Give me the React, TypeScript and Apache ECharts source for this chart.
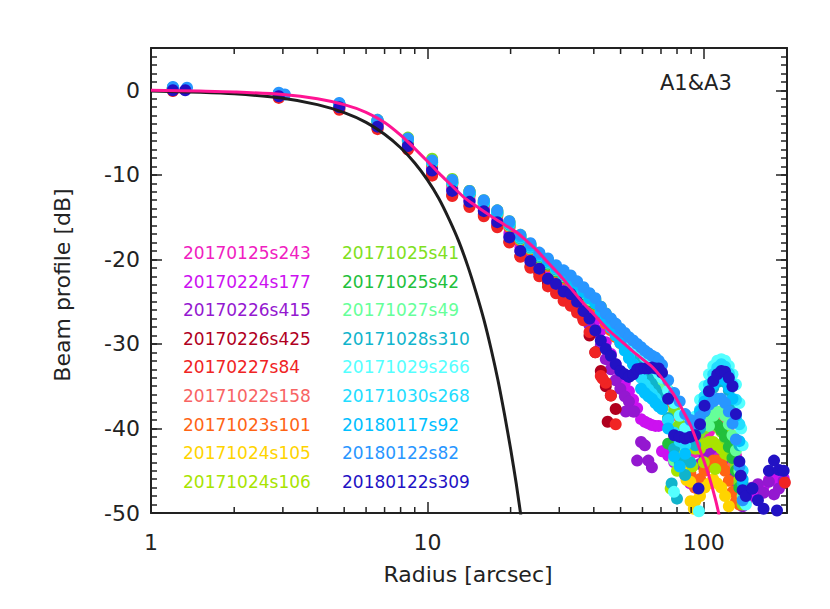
import React, { useEffect, useRef } from "react";
import * as echarts from "echarts";

// radial bins [arcsec]
const R = [1.2, 2.9, 4.8, 6.6, 8.5, 10.4, 12.3, 14.2, 16.0, 17.9, 19.8, 21.7, 23.6, 25.4, 27.3, 29.2, 31.1, 33.0, 34.8, 36.7, 38.6,
  40.5, 42.4, 44.2, 46.1, 48.0, 49.9, 51.8, 53.6, 55.5, 57.4, 59.3, 61.2, 63.0, 64.9, 66.8, 68.7, 70.6,
  74.3, 78.1, 81.8, 85.6, 89.4, 93.1, 96.9, 100.6, 104.4, 108.2, 111.9, 115.7, 119.4, 123.2, 127.0, 130.7, 134.5, 138.2,
  142.0, 149.5, 157.0, 164.5, 172.0, 179.5, 187.0, 194.5];

const NAMES = ["20170125s243", "20170224s177", "20170226s415", "20170226s425", "20170227s84", "20171022s158",
  "20171023s101", "20171024s105", "20171024s106", "20171025s41", "20171025s42", "20171027s49", "20171028s310",
  "20171029s266", "20171030s268", "20180117s92", "20180122s82", "20180122s309"];

const COLORS = ["#f020c0", "#cc11f0", "#9418d0", "#b0001e", "#f02424", "#f86464", "#ff6414", "#ffd400", "#a8e400",
  "#80e020", "#22c03c", "#66ff99", "#10b4cc", "#55ffff", "#22ddff", "#00c0ff", "#2896ff", "#2212c4"];

const N = null;

const y243 = [0.2, -0.5, -1.8, -3.9, -6.1, -8.8, -11.2, -12.5, -13.6, -14.9, -16.3, -17.9, -19.0, -20.1, -21.0, -21.8, -22.5, -23.1, -23.8, -24.5, -25.2,
  -25.8, -26.6, -27.4, -28.1, -28.8, -29.4, -30.0, -30.6, -31.1, -31.6, -32.1, -32.6, -33.1, -33.6, -34.1, -34.6, -35.2,
  -36.8, -38.4, -39.8, -41.0, -42.2, -42.8, -42.0, -41.2, -40.4, -39.8, -39.4, -39.2, -39.6, -40.4, -41.6, -43.2, -45.2, -47.5];
const y177 = [0.1, -0.6, -1.9, -4.1, -6.4, -9.2, -11.6, -12.9, -14.0, -15.3, -16.9, -18.6, -19.8, -20.8, -21.8, -22.6, -23.4, -24.0, -24.8, -25.7, -26.4,
  -27.2, -28.4, -29.8, -31.2, -32.4, -33.6, -34.6, -35.6, -36.6, -37.6, -38.9, -39.2, -39.4, -39.6, -39.7, -39.7, -42.7,
  -43.2, -44.0, -44.8, -45.5, -46.5, -47.0, -46.0, -44.6, -43.6, -43.0, -43.9, -43.2, -42.6, -43.5, -44.6, -46.0, -47.5, -48.5,
  -47.6, -47.9, -47.2, -46.9, -46.1, -45.6, -46.6, -45.9];
const y415 = [0.1, -0.6, -2.0, -4.2, -6.5, -9.4, -11.8, -13.1, -14.2, -15.6, -17.3, -19.0, -20.3, -21.4, -22.5, -23.3, -24.2, -25.0, -26.0, -27.0, -27.8,
  -28.6, -30.2, -31.8, -33.0, -34.3, -35.3, -36.2, -36.8, -38.0, -43.8, -41.6, -42.0, -43.8, -44.6, N, N, N,
  N, N, N, N, N, N, -44.2, -43.4, -42.7, -42.2, -42.0, -42.3, -43.0, -44.0, -45.2, -46.5, -48.0, -49.2,
  -48.6, -47.0, -46.6, -47.6, -46.3, -47.8, -47.1, -46.2];
const y425 = [0.0, -0.8, -2.2, -4.5, -6.9, -9.9, -12.4, -13.6, -14.7, -16.0, -17.9, -19.6, -20.8, -21.6, -22.8, -23.5, -24.4, -25.2, -26.0, -27.0, -29.0,
  -31.0, -33.2, -35.0, -36.1, -37.7];
const y84 = [-0.1, -0.9, -2.3, -4.6, -7.0, -10.1, -12.5, -13.8, -14.9, -16.2, -18.0, -19.7, -21.0, -22.0, -23.2, -24.0, -24.9, -25.5, -26.3, -27.2, -28.6,
  -31.0, -33.8, -34.6, -36.1, -39.5];
const y158 = [0.2, -0.5, -1.8, -3.8, -6.0, -8.7, -11.0, -12.3, -13.4, -14.7, -16.1, -17.7, -18.8, -19.8, -20.6, -21.4, -22.1, -22.7, -23.4, -24.1, -24.7,
  -25.2, -26.2, -27.1, -27.9, -28.6, -29.3, -29.9, -30.5, -31.1, -31.7, -32.3, -32.8, -33.3, -33.8, -34.3, -34.8, -35.3,
  -36.8, -38.3, -39.8, -41.2, -42.0, -41.0, -40.0, -39.2, -38.8, -38.8, -39.2, -40.0, -41.0, -42.5, -44.5, -47.5, -48.5];
const y101 = [0.2, -0.5, -1.8, -3.9, -6.1, -8.8, -11.1, -12.4, -13.5, -14.8, -16.2, -17.8, -18.9, -20.0, -20.8, -21.6, -22.3, -22.9, -23.6, -24.3, -25.0,
  -25.6, -26.6, -27.6, -28.4, -29.2, -29.9, -30.6, -31.2, -31.8, -32.4, -33.0, -33.6, -34.2, -34.8, -35.4, -36.0, -36.8,
  -38.8, -40.8, -42.6, -43.9, -45.3, -47.0, -46.0, -45.0, -44.2, -43.8, -43.8, -44.2, -45.0, -46.2, -47.5, -48.6, -49.0];
const y105 = [0.3, -0.4, -1.7, -3.7, -5.8, -8.3, -10.7, -12.0, -13.2, -14.4, -15.8, -17.4, -18.5, -19.6, -20.4, -21.2, -21.9, -22.5, -23.2, -23.9, -24.6,
  -25.3, -26.2, -27.1, -27.9, -28.6, -29.3, -30.0, -30.6, -31.2, -31.8, -32.4, -33.0, -33.6, -34.3, -35.0, -35.7, -36.5,
  -39.0, -41.5, -42.5, -44.7, -46.3, -48.6, -48.0, -47.0, -46.5, -46.0, -46.5, -47.0, -48.0, -49.2];
const y106 = [0.3, -0.4, -1.6, -3.6, -5.7, -8.2, -10.6, -11.9, -13.1, -14.3, -15.6, -17.2, -18.3, -19.3, -20.1, -20.9, -21.6, -22.2, -22.9, -23.6, -24.3,
  -24.9, -25.8, -26.6, -27.3, -28.0, -28.6, -29.2, -29.8, -30.4, -31.0, -31.8, -32.4, -33.0, -33.6, -34.4, -35.2, -36.2,
  -38.8, -40.0, -40.8, -41.5, -42.2, -42.4, -42.4, -41.8, -41.6, -41.6, -42.0, -42.4, -43.0, -43.2, -43.2, -44.0, -46.0, -48.5];
const y41 = [0.3, -0.4, -1.6, -3.5, -5.6, -8.1, -10.5, -11.9, -13.0, -14.2, -15.5, -17.1, -18.2, -19.3, -20.1, -20.9, -21.5, -22.1, -22.8, -23.5, -24.1,
  -24.7, -25.6, -26.4, -27.1, -27.7, -28.3, -28.8, -29.3, -29.8, -30.3, -30.8, -31.3, -31.8, -32.3, -32.8, -33.2, -33.7,
  -35.5, -37.8, -39.5, -40.5, -41.0, -41.0, -40.5, -40.0, -39.6, -39.5, -39.8, -40.4, -41.2, -42.0, -43.2, -44.6, -46.5, -49.0];
const y42 = [0.2, -0.5, -1.7, -3.7, -5.9, -8.5, -10.9, -12.2, -13.3, -14.6, -16.0, -17.6, -18.7, -19.8, -20.6, -21.4, -22.1, -22.7, -23.4, -24.2, -25.0,
  -25.3, -26.3, -27.2, -28.0, -28.7, -29.4, -30.0, -30.6, -31.2, -31.8, -32.4, -33.0, -33.6, -34.2, -35.0, -35.8, -37.5,
  -41.8, -42.2, -41.0, -40.5, -40.2, -40.0, -39.8, -39.4, -39.2, -39.2, -39.6, -40.2, -41.0, -42.2, -43.5, -45.0, -47.0];
const y49 = [0.2, -0.5, -1.7, -3.7, -5.9, -8.6, -11.0, -12.3, -13.4, -14.6, -16.0, -17.6, -18.7, -19.7, -20.5, -21.3, -22.0, -22.6, -23.3, -24.0, -24.8,
  -25.1, -26.1, -27.0, -27.8, -28.5, -29.2, -29.8, -30.4, -31.0, -31.6, -32.2, -32.8, -33.4, -34.0, -34.6, -35.2, -36.0,
  -39.0, -43.8, -42.0, -41.0, -40.5, -40.0, -39.5, -39.0, -39.7, -38.5, -38.0, -38.0, -38.5, -39.5, -40.8, -42.6, -45.0, -48.0];
const y310 = [0.2, -0.5, -1.7, -3.7, -5.9, -8.5, -10.9, -12.2, -13.3, -14.5, -15.9, -17.5, -18.6, -19.6, -20.4, -21.2, -21.9, -22.5, -23.2, -23.9, -24.6,
  -24.9, -25.9, -26.8, -27.6, -28.4, -29.1, -29.8, -30.5, -31.2, -31.9, -32.6, -33.3, -34.0, -34.7, -35.4, -36.0, -36.5,
  -38.8, -42.4, -44.0, -45.5, -44.0, -42.0, -40.0, -38.0, -36.5, -35.2, -34.5, -34.2, -34.5, -35.5, -37.0, -39.0, -42.0, -46.5];
const y266 = [0.3, -0.4, -1.6, -3.6, -5.8, -8.4, -10.8, -12.1, -13.2, -14.4, -15.7, -17.3, -18.4, -19.4, -20.2, -21.0, -21.7, -22.3, -23.0, -23.7, -24.4,
  -24.9, -25.9, -26.7, -27.4, -28.0, -28.6, -29.1, -29.6, -30.1, -30.6, -31.0, -31.5, -32.0, -32.5, -33.0, -33.5, -34.0,
  -35.5, -37.0, -38.5, -40.0, -40.5, -38.6, -36.6, -35.0, -33.6, -32.6, -32.0, -31.8, -32.0, -32.6, -33.6, -34.8, -37.0, -42.0,
  -49.0];
const y268 = [0.3, -0.4, -1.6, -3.6, -5.8, -8.5, -10.9, -12.2, -13.3, -14.5, -15.8, -17.4, -18.5, -19.5, -20.3, -21.1, -21.8, -22.4, -23.1, -23.8, -24.5,
  -25.0, -26.0, -27.0, -27.9, -28.8, -29.7, -30.6, -31.5, -32.4, -33.2, -34.0, -34.8, -35.4, -35.9, -36.4, -37.0, -37.6,
  -39.0, -40.5, -41.5, -42.0, -41.0, -39.5, -37.8, -36.2, -34.8, -33.6, -32.8, -32.4, -32.7, -33.5, -34.8, -36.6, -39.5, -45.0];
const y92 = [0.3, -0.4, -1.6, -3.6, -5.8, -8.4, -10.8, -12.1, -13.2, -14.4, -15.7, -17.3, -18.4, -19.4, -20.2, -21.0, -21.7, -22.3, -23.0, -23.8, -24.6,
  -25.2, -26.2, -27.2, -28.1, -29.0, -29.9, -30.8, -31.7, -32.4, -33.0, -35.3, -35.8, -36.2, -36.5, -37.0, -37.4, -37.7,
  -40.0, -43.3, -44.5, -43.0, -41.0, -39.5, -38.0, -36.8, -35.7, -34.8, -34.2, -34.0, -34.3, -35.2, -36.5, -38.5, -41.5, -46.0];
const y82 = [0.4, -0.3, -1.5, -3.5, -5.7, -8.3, -10.6, -11.9, -13.0, -14.2, -15.5, -17.1, -18.1, -19.2, -19.9, -20.7, -21.3, -21.9, -22.6, -23.3, -24.0,
  -24.6, -25.6, -26.4, -27.0, -27.6, -28.2, -28.7, -29.2, -29.6, -30.0, -30.4, -30.8, -31.1, -31.4, -31.6, -32.0, -32.5,
  -34.3, -35.8, -36.8, -38.3, -39.0, -39.4, -38.6, -37.9, -37.2, -36.8, -36.5, -36.5, -37.0, -38.0, -39.4, -41.3, -44.5, -48.5];
const y309 = [0.0, -0.7, -2.0, -4.3, -6.6, -9.5, -11.9, -13.2, -14.3, -15.6, -17.4, -19.0, -20.2, -21.1, -22.3, -22.9, -23.8, -24.1, -25.0, -26.1, -27.0,
  -28.4, -29.6, -30.6, -31.4, -32.4, -33.2, -33.6, -33.9, -33.6, -33.0, -32.9, -32.9, -32.9, -32.8, -32.9, -32.9, -33.4,
  -36.5, -40.8, -41.0, -41.2, -41.0, -40.8, -39.5, -37.3, -35.6, -34.4, -33.6, -33.2, -33.3, -34.0, -35.0, -38.3, -43.9, -47.3,
  -48.0, -47.1, -48.5, -49.5, -45.0, -43.8, -44.9, -45.0];

// extra scattered points [radius, dB]
const e243: number[][] = [];
const e177 = [[112.0, -43.9], [71.5, -42.7]];
const e415 = [[44.9, -31.8], [52.2, -38.0], [56.0, -38.0]];
const e425 = [[44.9, -39.2]];
const e84 = [[43.0, -34.1], [196.5, -46.4]];
const e158 = [[130.0, -47.5]];
const e101 = [[133.0, -48.6]];
const e105 = [[86.6, -46.1], [89.6, -48.6], [82.0, -42.0], [92.0, -49.5]];
const e106 = [[75.9, -47.1], [80.0, -45.0], [91.0, -44.5], [100.0, -44.0], [110.0, -44.8], [120.0, -40.5], [128.0, -41.0]];
const e41: number[][] = [];
const e42: number[][] = [];
const e49: number[][] = [];
const e310 = [[80.0, -48.3], [76.5, -46.5]];
const e266 = [[78.0, -47.5], [96.0, -49.8], [136.5, -40.0], [137.5, -45.0]];
const e268: number[][] = [];
const e92: number[][] = [];
const e82 = [[1.35, 0.3], [3.05, -0.5]];
const e309 = [[1.33, 0.0], [95.7, -47.1], [150.0, -47.1], [184.0, -49.7], [136.0, -45.6]];

// main-beam Gaussian (black) and model fit (pink)
const BLACK_X = [1, 1.5, 2, 3, 4, 5, 6, 7, 8, 9, 10, 11, 12, 13, 14, 15, 16, 17, 18, 19, 20, 21, 22];
const BLACK_Y = [-0.1, -0.24, -0.42, -0.95, -1.7, -2.65, -3.8, -5.2, -6.8, -8.6, -10.6, -12.8, -15.3, -17.9, -20.8, -23.9, -27.1, -30.6, -34.3, -38.3, -42.4, -46.7, -51.3];
const PINK_X = [1, 1.5, 2, 3, 4, 5, 6, 7, 8, 9, 10, 11, 12, 13.5, 15, 17, 19, 21, 23, 25, 27, 30, 33, 36, 40, 45, 50, 55, 60, 65, 70, 75, 80, 85, 90, 95, 100, 105, 110, 115];
const PINK_Y = [0.0, -0.1, -0.2, -0.5, -1.0, -1.7, -2.6, -3.8, -5.3, -6.9, -8.4, -9.8, -11.0, -12.6, -13.7, -14.9, -15.9, -16.8, -17.9, -19.0, -20.2, -21.8, -23.4, -24.9, -26.5, -28.3, -29.6, -30.8, -31.8, -32.7, -33.9, -35.2, -36.6, -38.2, -39.8, -41.8, -43.8, -45.9, -48.3, -51.0];

const X_MINOR = [2, 3, 4, 5, 6, 7, 8, 9, 20, 30, 40, 50, 60, 70, 80, 90];

const FONT = "DejaVu Sans";
const INK = "#222";

export default function App() {
  const ref = useRef<HTMLDivElement>(null);
  useEffect(() => {
    if (!ref.current) return;
    const chart = echarts.init(ref.current, null, { renderer: "svg" });
    const ys = [y243, y177, y415, y425, y84, y158, y101, y105, y106, y41, y42, y49, y310, y266, y268, y92, y82, y309];
    const ex = [e243, e177, e415, e425, e84, e158, e101, e105, e106, e41, e42, e49, e310, e266, e268, e92, e82, e309];

    const scatter = NAMES.map((name, k) => ({
      type: "scatter",
      name,
      symbol: "circle",
      symbolSize: 12,
      silent: true,
      z: 2,
      itemStyle: { color: COLORS[k], opacity: 1 },
      data: (ys[k] as (number | null)[])
        .map((v, i) => (v == null ? null : [R[i], v]))
        .filter((p) => p != null)
        .concat(ex[k] as any),
    }));

    const lineStyleAxis = { color: INK, width: 2 };
    const tickStyle = { color: INK, width: 1.5 };

    const yBase = { type: "value", min: -50, max: 5, splitLine: { show: false } };

    chart.setOption({
      animation: false,
      grid: { left: 151, right: 43, top: 48, bottom: 96 },
      xAxis: [
        {
          type: "log", logBase: 10, min: 1, max: 200, position: "bottom",
          axisLine: { show: true, onZero: false, lineStyle: lineStyleAxis },
          axisTick: { show: true, inside: true, length: 11, lineStyle: tickStyle },
          axisLabel: { show: true, fontSize: 22, color: INK, fontFamily: FONT, margin: 18, showMaxLabel: false },
          splitLine: { show: false },
        },
        {
          type: "log", logBase: 10, min: 1, max: 200, position: "top",
          axisLine: { show: true, onZero: false, lineStyle: lineStyleAxis },
          axisTick: { show: true, inside: true, length: 11, lineStyle: tickStyle },
          axisLabel: { show: false },
          splitLine: { show: false },
        },
      ],
      yAxis: [
        {
          ...yBase, position: "left", interval: 10,
          axisLine: { show: true, onZero: false, lineStyle: lineStyleAxis },
          axisTick: { show: true, inside: true, length: 11, lineStyle: tickStyle },
          axisLabel: { show: true, fontSize: 22, color: INK, fontFamily: FONT, margin: 11, showMaxLabel: false },
        },
        {
          ...yBase, position: "left", interval: 1,
          axisLine: { show: false, onZero: false },
          axisTick: { show: true, inside: true, length: 6, lineStyle: tickStyle },
          axisLabel: { show: false },
        },
        {
          ...yBase, position: "right", interval: 10,
          axisLine: { show: true, onZero: false, lineStyle: lineStyleAxis },
          axisTick: { show: true, inside: true, length: 11, lineStyle: tickStyle },
          axisLabel: { show: false },
        },
        {
          ...yBase, position: "right", interval: 1,
          axisLine: { show: false, onZero: false },
          axisTick: { show: true, inside: true, length: 6, lineStyle: tickStyle },
          axisLabel: { show: false },
        },
      ],
      series: [
        ...scatter,
        {
          type: "line", name: "main beam", silent: true, z: 4, symbol: "none", smooth: 0.3,
          lineStyle: { color: "#1e1e1e", width: 3 },
          data: BLACK_X.map((x, i) => [x, BLACK_Y[i]]),
        },
        {
          type: "line", name: "model", silent: true, z: 4, symbol: "none", smooth: 0.3,
          lineStyle: { color: "#ff1493", width: 3 },
          data: PINK_X.map((x, i) => [x, PINK_Y[i]]),
        },
        {
          type: "custom", silent: true, z: 5, clip: false,
          data: X_MINOR.map((v) => [v, -50]),
          renderItem: (params: any, api: any) => {
            const b = api.coord([api.value(0), -50]);
            const t = api.coord([api.value(0), 5]);
            return {
              type: "group",
              children: [
                { type: "line", shape: { x1: b[0], y1: b[1], x2: b[0], y2: b[1] - 6 }, style: { stroke: INK, lineWidth: 1.5 } },
                { type: "line", shape: { x1: t[0], y1: t[1], x2: t[0], y2: t[1] + 6 }, style: { stroke: INK, lineWidth: 1.5 } },
              ],
            };
          },
        },
      ],
      graphic: [
        ...NAMES.map((name, k) => ({
          type: "text",
          x: k < 9 ? 183 : 342,
          y: 253 + (k % 9) * 28.6,
          style: { text: name, fill: COLORS[k], fontSize: 17, fontFamily: FONT, align: "left", verticalAlign: "middle" },
          silent: true,
        })),
        {
          type: "text", x: 660, y: 83,
          style: { text: "A1&A3", fill: INK, fontSize: 21, fontFamily: FONT, align: "left", verticalAlign: "middle" },
        },
        {
          type: "text", x: 468, y: 574,
          style: { text: "Radius [arcsec]", fill: INK, fontSize: 22, fontFamily: FONT, align: "center", verticalAlign: "middle" },
        },
        {
          type: "text", x: 62, y: 285, rotation: Math.PI / 2,
          style: { text: "Beam profile [dB]", fill: INK, fontSize: 22, fontFamily: FONT, align: "center", verticalAlign: "middle" },
        },
      ],
    });
    return () => chart.dispose();
  }, []);

  return (
    <div
      ref={ref}
      style={{ position: "fixed", left: 0, top: 0, width: 830, height: 609, background: "#fff" }}
    />
  );
}
